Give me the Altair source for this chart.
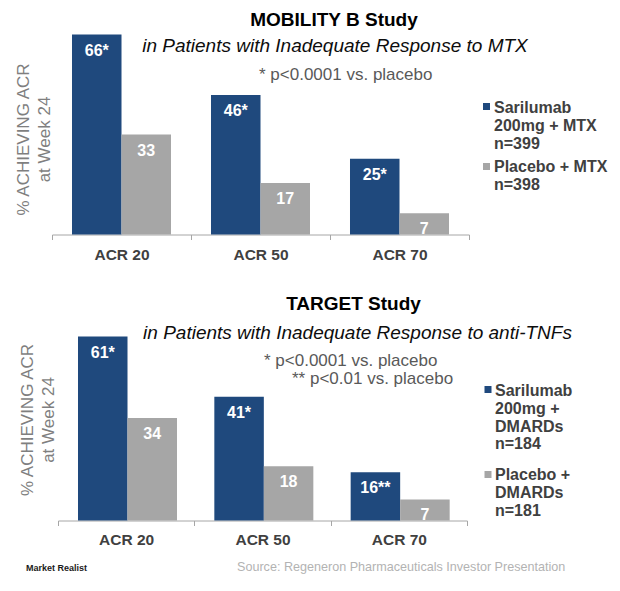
import altair as alt
import pandas as pd

# ---------------- data ----------------
CATEGORIES = ["ACR 20", "ACR 50", "ACR 70"]
SERIES = ["Sarilumab", "Placebo"]
COLORS = ["#1F497D", "#A6A6A6"]

TOP_TITLE = "MOBILITY B Study"
TOP_SUBTITLE = "in Patients with Inadequate Response to MTX"
TOP_NOTES = ["* p<0.0001 vs. placebo"]
TOP_SARILUMAB = [66, 46, 25]
TOP_PLACEBO = [33, 17, 7]
TOP_SARILUMAB_MARKS = ["*", "*", "*"]
TOP_LEGEND = [["Sarilumab", "200mg + MTX", "n=399"], ["Placebo + MTX", "n=398"]]

BOTTOM_TITLE = "TARGET Study"
BOTTOM_SUBTITLE = "in Patients with Inadequate Response to anti-TNFs"
BOTTOM_NOTES = ["* p<0.0001 vs. placebo", "** p<0.01 vs. placebo"]
BOTTOM_SARILUMAB = [61, 41, 16]
BOTTOM_PLACEBO = [34, 18, 7]
BOTTOM_SARILUMAB_MARKS = ["*", "*", "**"]
BOTTOM_LEGEND = [["Sarilumab", "200mg +", "DMARDs", "n=184"], ["Placebo +", "DMARDs", "n=181"]]

Y_TITLE = ["% ACHIEVING ACR", "at Week 24"]
BRAND = "Market Realist"
SOURCE = "Source: Regeneron Pharmaceuticals  Investor Presentation"

FONT = "Liberation Sans, Arial, sans-serif"


def one_text(text, **mark):
    return alt.Chart(pd.DataFrame({"t": [text]})).mark_text(**mark)


def panel(sar, pla, marks, title, subtitle, notes, legend, width, height, ymax,
          xrange, ytitle_x, ytitle_y, label_pad, layout, footer=False):
    rows = []
    for i, c in enumerate(CATEGORIES):
        rows.append({"cat": c, "series": SERIES[0], "value": sar[i], "label": f"{sar[i]}{marks[i]}"})
        rows.append({"cat": c, "series": SERIES[1], "value": pla[i], "label": f"{pla[i]}"})
    df = pd.DataFrame(rows)

    xs = dict(domain=CATEGORIES, paddingInner=0, paddingOuter=0)
    if xrange:
        xs["range"] = xrange
    x = alt.X("cat:N", sort=CATEGORIES, scale=alt.Scale(**xs),
              axis=alt.Axis(title=None, labelAngle=0, tickBand="extent", ticks=True,
                            tickSize=5, tickColor="#a6a6a6", domainColor="#a6a6a6",
                            labelFont=FONT, labelFontSize=15.5, labelFontWeight="bold",
                            labelColor="#404040", labelPadding=label_pad, grid=False))
    xo = alt.XOffset("series:N", sort=SERIES,
                     scale=alt.Scale(domain=SERIES, paddingInner=0, paddingOuter=0.404))
    y = alt.Y("value:Q", scale=alt.Scale(domain=[0, ymax], nice=False, zero=True),
              axis=alt.Axis(title=Y_TITLE, labels=False, ticks=False, domain=False, grid=False,
                            titleColor="#7f7f7f", titleFont=FONT, titleFontSize=17,
                            titleFontWeight="normal", titleLineHeight=21,
                            titleX=ytitle_x, titleY=ytitle_y,
                            titleBaseline="middle", titleAlign="center"))
    color = alt.Color("series:N", scale=alt.Scale(domain=SERIES, range=COLORS), legend=None)

    bars = alt.Chart(df).mark_bar().encode(x=x, xOffset=xo, y=y, color=color)
    labels = alt.Chart(df).mark_text(baseline="middle", dy=16, font=FONT, fontSize=16,
                                     fontWeight="bold", color="white").encode(
        x=x, xOffset=xo, y=y, text="label:N")

    layers = [bars, labels]
    tx, ty, sx, sy = layout["title"] + layout["subtitle"]
    layers.append(one_text(title, align="center", baseline="middle", font=FONT,
                           fontSize=19, fontWeight="bold", color="#000000")
                  .encode(text="t:N", x=alt.value(tx), y=alt.value(ty)))
    layers.append(one_text(subtitle, align="center", baseline="middle", font=FONT,
                           fontSize=19, fontStyle="italic", color="#0d0d0d")
                  .encode(text="t:N", x=alt.value(sx), y=alt.value(sy)))
    for note, (nx, ny) in zip(notes, layout["notes"]):
        layers.append(one_text(note, align="left", baseline="middle", font=FONT,
                               fontSize=17, color="#595959")
                      .encode(text="t:N", x=alt.value(nx), y=alt.value(ny)))
    for i, (lines, (lsx, lsy, ltx, lty)) in enumerate(zip(legend, layout["legend"])):
        layers.append(alt.Chart(pd.DataFrame({"s": [SERIES[i]]})).mark_square(size=49, opacity=1)
                      .encode(x=alt.value(lsx), y=alt.value(lsy),
                              color=alt.value(COLORS[i])))
        layers.append(one_text(lines, align="left", baseline="alphabetic", font=FONT,
                               fontSize=16, fontWeight="bold", color="#404040",
                               lineHeight=17.7)
                      .encode(text=alt.value(lines), x=alt.value(ltx), y=alt.value(lty)))
    if footer:
        (bx, by), (srx, sry) = layout["footer"]
        layers.append(one_text(BRAND, align="left", baseline="middle", font=FONT,
                               fontSize=9, fontWeight="bold", color="#1a1a1a")
                      .encode(text="t:N", x=alt.value(bx), y=alt.value(by)))
        layers.append(one_text(SOURCE, align="left", baseline="middle", font=FONT,
                               fontSize=12.6, color="#b3b3b3")
                      .encode(text="t:N", x=alt.value(srx), y=alt.value(sry)))

    return alt.layer(*layers).properties(width=width, height=height)


top = panel(TOP_SARILUMAB, TOP_PLACEBO, TOP_SARILUMAB_MARKS, TOP_TITLE, TOP_SUBTITLE,
            TOP_NOTES, TOP_LEGEND, width=417, height=200, ymax=66, xrange=None,
            ytitle_x=-29, ytitle_y=104.5, label_pad=8,
            layout={"title": (282, -14.5), "subtitle": (283, 11.1),
                    "notes": [(207, 40)],
                    "legend": [(434.5, 72, 442, 78.7), (434.5, 132, 442, 137.7)]})

bottom = panel(BOTTOM_SARILUMAB, BOTTOM_PLACEBO, BOTTOM_SARILUMAB_MARKS, BOTTOM_TITLE,
               BOTTOM_SUBTITLE, BOTTOM_NOTES, BOTTOM_LEGEND, width=415, height=184, ymax=61,
               xrange=[6, 415], ytitle_x=-25, ytitle_y=83, label_pad=7,
               layout={"title": (301.5, -32.9), "subtitle": (305.5, -3.9),
                       "notes": [(212, 24), (240, 42)],
                       "legend": [(436, 53, 443, 59.7), (436, 138, 443, 143.7)],
                       "footer": ((-26, 231), (185, 230))},
               footer=True)

chart = alt.vconcat(top, bottom, spacing=31).properties(
    padding={"left": 6, "top": 2.5, "right": 0, "bottom": 0},
    background="white",
).configure_view(strokeWidth=0)

chart.save("out.html", embed_options={"renderer": "svg", "actions": False})
